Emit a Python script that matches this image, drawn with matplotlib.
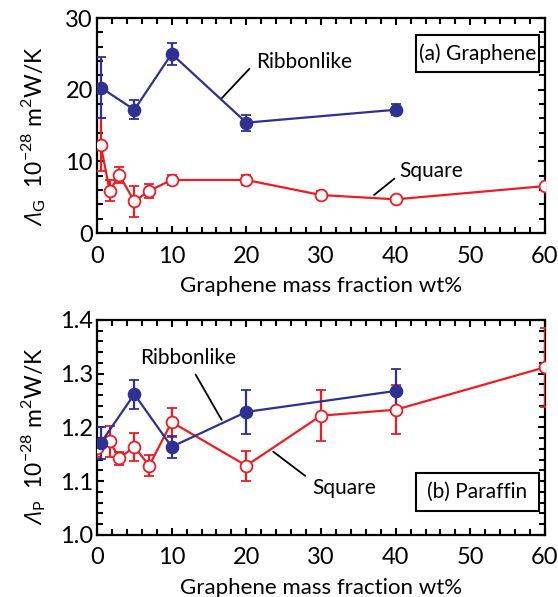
import matplotlib
matplotlib.use('Agg')
import matplotlib.pyplot as plt
from matplotlib.patches import Rectangle
from matplotlib.ticker import MultipleLocator

plt.rcParams['font.family'] = ['Lato', 'DejaVu Sans']
plt.rcParams['mathtext.fontset'] = 'custom'
plt.rcParams['mathtext.rm'] = 'Lato'
plt.rcParams['mathtext.sf'] = 'Open Sans:italic'

BLUE = '#2e3192'
RED = '#ed1c24'

# (a) Graphene
g_rib_x = [0.5, 5, 10, 20, 40]
g_rib_y = [20.3, 17.2, 25.0, 15.4, 17.2]
g_rib_e = [4.2, 1.3, 1.5, 1.1, 0.8]

g_sq_x = [0.5, 1.7, 3, 5, 7, 10, 20, 30, 40, 60]
g_sq_y = [12.3, 5.9, 8.1, 4.4, 5.9, 7.4, 7.4, 5.3, 4.7, 6.55]
g_sq_e = [3.7, 1.5, 1.1, 2.1, 1.0, 0.7, 0.7, 0.6, 0.3, 0.3]

# (b) Paraffin
p_rib_x = [0.5, 5, 10, 20, 40]
p_rib_y = [1.171, 1.262, 1.164, 1.229, 1.268]
p_rib_e = [0.030, 0.027, 0.020, 0.041, 0.040]

p_sq_x = [0, 1.7, 3, 5, 7, 10, 20, 30, 40, 60]
p_sq_y = [1.161, 1.174, 1.143, 1.164, 1.129, 1.210, 1.129, 1.222, 1.233, 1.312]
p_sq_e = [0.016, 0.028, 0.012, 0.026, 0.020, 0.027, 0.028, 0.048, 0.046, 0.073]

fig = plt.figure(figsize=(5.58, 5.97), dpi=100)
ax1 = fig.add_axes([0.1738, 0.6097, 0.8029, 0.3601])
ax2 = fig.add_axes([0.1738, 0.1039, 0.8029, 0.3601])


def draw_series(ax, x, y, e, color, filled):
    ax.errorbar(x, y, yerr=e, color=color, lw=1.6, elinewidth=1.6,
                capsize=3.5, capthick=1.6, marker='o', markersize=8.5,
                markerfacecolor=color if filled else 'white',
                markeredgecolor=color, markeredgewidth=1.3, zorder=3)


def style_axes(ax):
    ax.set_xlim(0, 60)
    ax.xaxis.set_major_locator(MultipleLocator(10))
    ax.xaxis.set_minor_locator(MultipleLocator(2))
    ax.tick_params(which='both', direction='in', top=True, right=True,
                   width=1.5, labelsize=17)
    ax.tick_params(which='major', length=5)
    ax.tick_params(which='minor', length=4)
    ax.tick_params(axis='x', pad=9)
    ax.tick_params(axis='y', pad=3)
    for s in ax.spines.values():
        s.set_linewidth(1.6)
    ax.set_xlabel('Graphene mass fraction wt%', fontsize=16, labelpad=7)


def label_box(ax, x0, y0, w, h, text):
    ax.add_patch(Rectangle((x0, y0), w, h, transform=ax.transAxes,
                           fc='white', ec='black', lw=1.5, zorder=4))
    ax.text(x0 + w / 2, y0 + h / 2, text, transform=ax.transAxes,
            fontsize=15, ha='center', va='center', zorder=5)


line_kw = dict(arrowstyle='-', color='black', lw=1.3, shrinkB=0)

draw_series(ax1, g_sq_x, g_sq_y, g_sq_e, RED, False)
draw_series(ax1, g_rib_x, g_rib_y, g_rib_e, BLUE, True)
style_axes(ax1)
ax1.set_ylim(0, 30)
ax1.yaxis.set_major_locator(MultipleLocator(10))
ax1.yaxis.set_minor_locator(MultipleLocator(2))
ax1.set_ylabel(r'$\mathsf{Λ}_\mathrm{G}$  10$^{-28}$ m$^{2}$W/K', fontsize=16.5)
ax1.yaxis.set_label_coords(-0.11, 0.45)
ax1.annotate('Ribbonlike', xy=(16.7, 18.8), xytext=(21.3, 23.9), fontsize=15,
             va='center', ha='left',
             arrowprops=dict(relpos=(0, 0.5), shrinkA=4, **line_kw))
ax1.annotate('Square', xy=(37.1, 5.3), xytext=(40.5, 8.7), fontsize=15,
             va='center', ha='left',
             arrowprops=dict(relpos=(0, 0.3), shrinkA=2, **line_kw))
label_box(ax1, 0.711, 0.750, 0.276, 0.171, '(a) Graphene')

draw_series(ax2, p_sq_x, p_sq_y, p_sq_e, RED, False)
draw_series(ax2, p_rib_x, p_rib_y, p_rib_e, BLUE, True)
style_axes(ax2)
ax2.set_ylim(1.0, 1.4)
ax2.yaxis.set_major_locator(MultipleLocator(0.1))
ax2.yaxis.set_minor_locator(MultipleLocator(0.02))
ax2.set_ylabel(r'$\mathsf{Λ}_\mathrm{P}$  10$^{-28}$ m$^{2}$W/K', fontsize=16.5)
ax2.yaxis.set_label_coords(-0.11, 0.46)
ax2.annotate('Ribbonlike', xy=(16.7, 1.214), xytext=(12.2, 1.329), fontsize=15,
             va='center', ha='center',
             arrowprops=dict(relpos=(0.54, 0), shrinkA=3, **line_kw))
ax2.annotate('Square', xy=(23.6, 1.155), xytext=(33.1, 1.087), fontsize=15,
             va='center', ha='center',
             arrowprops=dict(relpos=(0, 0.85), shrinkA=4, **line_kw))
label_box(ax2, 0.711, 0.113, 0.276, 0.177, '(b) Paraffin')

fig.savefig('out.png', dpi=100)
